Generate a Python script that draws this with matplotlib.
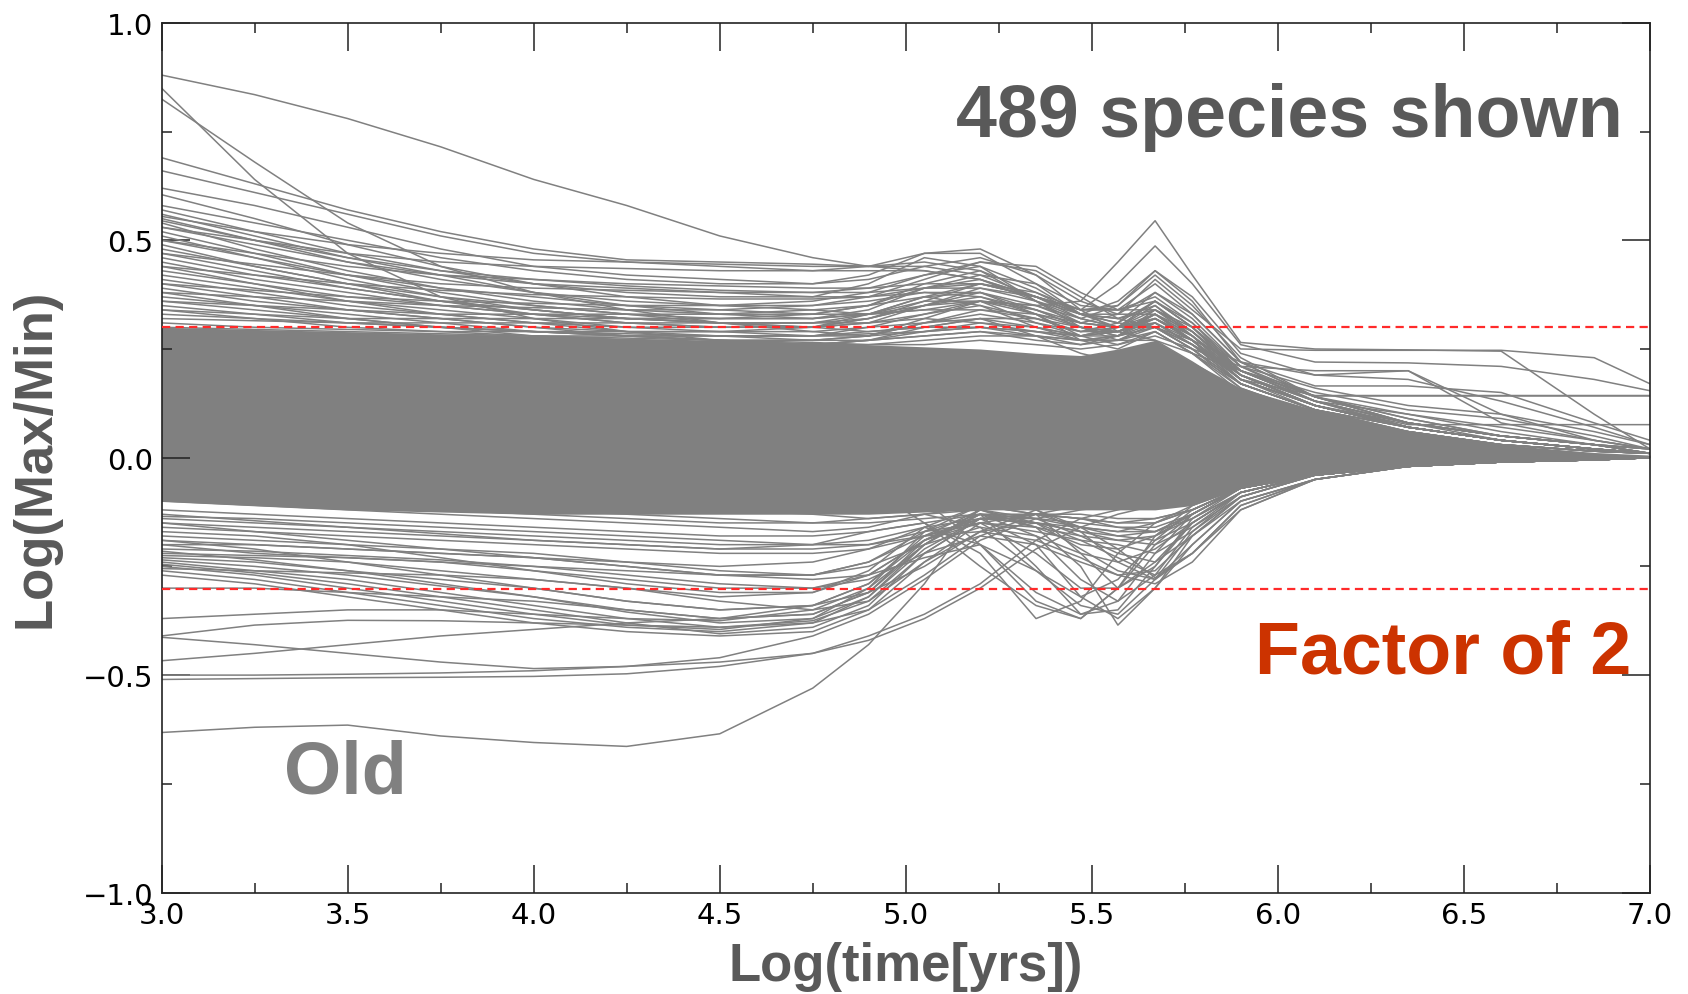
import matplotlib
matplotlib.use("Agg")
import matplotlib.pyplot as plt
from matplotlib.ticker import MultipleLocator

log_time = [3.0, 3.25, 3.5, 3.75, 4.0, 4.25, 4.5, 4.75, 4.9, 5.05, 5.2,
            5.35, 5.47, 5.57, 5.67, 5.77, 5.9, 6.1, 6.35, 6.6, 6.85, 7.0]

# envelope of the saturated (solid grey) part of the bundle
core_top = [0.30, 0.295, 0.29, 0.285, 0.28, 0.275, 0.27, 0.265, 0.26, 0.255, 0.25,
            0.24, 0.235, 0.25, 0.27, 0.22, 0.16, 0.11, 0.06, 0.03, 0.012, 0.006]
core_bottom = [-0.10, -0.11, -0.12, -0.125, -0.13, -0.13, -0.13, -0.13, -0.13, -0.125, -0.12,
               -0.12, -0.12, -0.12, -0.12, -0.11, -0.07, -0.04, -0.02, -0.01, -0.004, 0.0]

# individual species above the bundle
upper_tracks = [
    [0.88, 0.835, 0.78, 0.715, 0.64, 0.58, 0.51, 0.46, 0.44, 0.43, 0.41, 0.37, 0.33, 0.31, 0.30, 0.26, 0.19, 0.12, 0.07, 0.04, 0.02, 0.01],
    [0.85, 0.64, 0.47, 0.37, 0.32, 0.29, 0.27, 0.26, 0.27, 0.30, 0.32, 0.28, 0.24, 0.22, 0.24, 0.21, 0.14, 0.09, 0.05, 0.03, 0.015, 0.01],
    [0.825, 0.68, 0.54, 0.44, 0.38, 0.34, 0.31, 0.30, 0.31, 0.35, 0.38, 0.33, 0.27, 0.25, 0.29, 0.24, 0.15, 0.10, 0.06, 0.03, 0.015, 0.01],
    [0.69, 0.63, 0.57, 0.52, 0.48, 0.455, 0.45, 0.445, 0.44, 0.45, 0.43, 0.36, 0.31, 0.30, 0.33, 0.27, 0.17, 0.11, 0.06, 0.03, 0.015, 0.01],
    [0.66, 0.61, 0.56, 0.51, 0.47, 0.45, 0.44, 0.43, 0.44, 0.47, 0.48, 0.42, 0.34, 0.29, 0.27, 0.22, 0.15, 0.09, 0.05, 0.03, 0.015, 0.01],
    [0.62, 0.58, 0.53, 0.48, 0.44, 0.42, 0.41, 0.40, 0.42, 0.47, 0.47, 0.40, 0.33, 0.31, 0.36, 0.30, 0.19, 0.12, 0.07, 0.04, 0.02, 0.01],
    [0.605, 0.55, 0.49, 0.44, 0.40, 0.37, 0.35, 0.35, 0.37, 0.41, 0.45, 0.43, 0.37, 0.32, 0.30, 0.25, 0.16, 0.10, 0.06, 0.03, 0.015, 0.01],
    [0.57, 0.52, 0.47, 0.43, 0.40, 0.38, 0.37, 0.37, 0.40, 0.46, 0.44, 0.36, 0.32, 0.35, 0.43, 0.36, 0.22, 0.14, 0.08, 0.04, 0.02, 0.01],
    [0.56, 0.51, 0.46, 0.42, 0.38, 0.35, 0.33, 0.32, 0.33, 0.36, 0.40, 0.38, 0.34, 0.40, 0.487, 0.40, 0.26, 0.22, 0.218, 0.21, 0.18, 0.154],
    [0.55, 0.50, 0.45, 0.41, 0.38, 0.36, 0.35, 0.34, 0.33, 0.34, 0.36, 0.35, 0.36, 0.45, 0.545, 0.42, 0.265, 0.25, 0.248, 0.245, 0.10, 0.02],
    [0.54, 0.48, 0.43, 0.39, 0.36, 0.34, 0.33, 0.33, 0.35, 0.40, 0.43, 0.38, 0.33, 0.36, 0.43, 0.37, 0.24, 0.19, 0.20, 0.08, 0.04, 0.02],
    [0.53, 0.49, 0.45, 0.42, 0.40, 0.39, 0.38, 0.37, 0.37, 0.38, 0.37, 0.33, 0.31, 0.33, 0.41, 0.34, 0.25, 0.247, 0.247, 0.247, 0.23, 0.17],
    [0.52, 0.47, 0.42, 0.38, 0.35, 0.33, 0.32, 0.32, 0.34, 0.39, 0.42, 0.40, 0.35, 0.34, 0.40, 0.33, 0.22, 0.165, 0.165, 0.15, 0.08, 0.04],
    [0.50, 0.46, 0.42, 0.39, 0.37, 0.35, 0.34, 0.33, 0.33, 0.35, 0.36, 0.34, 0.31, 0.30, 0.36, 0.30, 0.20, 0.142, 0.142, 0.142, 0.142, 0.142],
    [0.49, 0.44, 0.40, 0.36, 0.33, 0.31, 0.30, 0.30, 0.31, 0.33, 0.35, 0.32, 0.29, 0.30, 0.35, 0.28, 0.18, 0.143, 0.143, 0.143, 0.143, 0.143],
    [0.47, 0.43, 0.39, 0.36, 0.34, 0.32, 0.31, 0.31, 0.33, 0.37, 0.40, 0.37, 0.33, 0.32, 0.35, 0.29, 0.19, 0.12, 0.076, 0.076, 0.076, 0.076],
    [0.45, 0.41, 0.38, 0.35, 0.33, 0.31, 0.30, 0.30, 0.32, 0.36, 0.36, 0.31, 0.28, 0.30, 0.36, 0.31, 0.21, 0.20, 0.20, 0.10, 0.04, 0.02],
    [0.43, 0.40, 0.37, 0.35, 0.33, 0.32, 0.32, 0.33, 0.35, 0.39, 0.41, 0.36, 0.30, 0.28, 0.32, 0.27, 0.18, 0.12, 0.08, 0.05, 0.03, 0.02],
    [0.41, 0.38, 0.35, 0.33, 0.31, 0.30, 0.30, 0.30, 0.32, 0.35, 0.37, 0.34, 0.30, 0.29, 0.33, 0.28, 0.19, 0.13, 0.10, 0.06, 0.03, 0.02],
    [0.39, 0.36, 0.34, 0.32, 0.30, 0.29, 0.29, 0.30, 0.33, 0.37, 0.35, 0.30, 0.27, 0.28, 0.34, 0.29, 0.20, 0.13, 0.08, 0.05, 0.03, 0.02],
    [0.37, 0.35, 0.33, 0.31, 0.29, 0.28, 0.28, 0.28, 0.30, 0.33, 0.36, 0.35, 0.32, 0.30, 0.31, 0.26, 0.17, 0.11, 0.07, 0.04, 0.02, 0.01],
    [0.35, 0.33, 0.31, 0.30, 0.29, 0.28, 0.27, 0.27, 0.28, 0.31, 0.33, 0.31, 0.29, 0.31, 0.38, 0.33, 0.22, 0.14, 0.08, 0.05, 0.03, 0.01],
    [0.33, 0.32, 0.31, 0.30, 0.29, 0.285, 0.28, 0.28, 0.29, 0.30, 0.30, 0.29, 0.28, 0.30, 0.34, 0.30, 0.21, 0.14, 0.09, 0.05, 0.03, 0.01],
    [0.58, 0.54, 0.50, 0.46, 0.43, 0.41, 0.40, 0.40, 0.41, 0.44, 0.46, 0.42, 0.36, 0.33, 0.33, 0.27, 0.18, 0.12, 0.07, 0.04, 0.02, 0.01],
    [0.51, 0.46, 0.41, 0.37, 0.34, 0.32, 0.31, 0.31, 0.32, 0.35, 0.39, 0.37, 0.32, 0.30, 0.32, 0.28, 0.20, 0.14, 0.09, 0.05, 0.03, 0.01],
    [0.555, 0.52, 0.49, 0.47, 0.455, 0.45, 0.445, 0.44, 0.44, 0.44, 0.42, 0.37, 0.34, 0.35, 0.42, 0.35, 0.23, 0.14, 0.08, 0.05, 0.03, 0.01],
    [0.53, 0.50, 0.47, 0.45, 0.44, 0.435, 0.43, 0.43, 0.43, 0.43, 0.41, 0.37, 0.34, 0.34, 0.36, 0.30, 0.20, 0.13, 0.08, 0.05, 0.03, 0.01],
    [0.48, 0.44, 0.40, 0.37, 0.35, 0.33, 0.31, 0.29, 0.28, 0.29, 0.30, 0.28, 0.26, 0.27, 0.31, 0.27, 0.18, 0.12, 0.07, 0.04, 0.02, 0.01],
    [0.46, 0.42, 0.39, 0.36, 0.34, 0.32, 0.31, 0.30, 0.29, 0.30, 0.32, 0.32, 0.30, 0.28, 0.30, 0.27, 0.19, 0.13, 0.08, 0.05, 0.03, 0.01],
    [0.44, 0.40, 0.36, 0.33, 0.31, 0.29, 0.28, 0.27, 0.27, 0.28, 0.29, 0.27, 0.26, 0.28, 0.33, 0.28, 0.19, 0.12, 0.07, 0.04, 0.02, 0.01],
    [0.42, 0.39, 0.36, 0.34, 0.32, 0.30, 0.29, 0.28, 0.28, 0.31, 0.34, 0.33, 0.30, 0.27, 0.27, 0.24, 0.17, 0.11, 0.07, 0.04, 0.02, 0.01],
    [0.40, 0.37, 0.34, 0.32, 0.30, 0.28, 0.27, 0.27, 0.28, 0.32, 0.36, 0.33, 0.28, 0.26, 0.28, 0.25, 0.17, 0.11, 0.07, 0.04, 0.02, 0.01],
    [0.38, 0.35, 0.32, 0.30, 0.29, 0.28, 0.27, 0.26, 0.26, 0.27, 0.28, 0.28, 0.27, 0.27, 0.30, 0.26, 0.18, 0.12, 0.07, 0.04, 0.02, 0.01],
    [0.36, 0.34, 0.32, 0.30, 0.28, 0.27, 0.26, 0.26, 0.27, 0.29, 0.31, 0.30, 0.28, 0.29, 0.32, 0.27, 0.18, 0.12, 0.07, 0.04, 0.02, 0.01],
    [0.34, 0.32, 0.30, 0.29, 0.28, 0.27, 0.265, 0.26, 0.27, 0.28, 0.29, 0.28, 0.27, 0.28, 0.31, 0.26, 0.17, 0.11, 0.07, 0.04, 0.02, 0.01],
    [0.30, 0.295, 0.29, 0.285, 0.28, 0.275, 0.27, 0.265, 0.26, 0.26, 0.27, 0.26, 0.25, 0.26, 0.29, 0.24, 0.20, 0.15, 0.11, 0.09, 0.05, 0.02],
    [0.31, 0.30, 0.295, 0.29, 0.29, 0.29, 0.29, 0.29, 0.30, 0.31, 0.32, 0.30, 0.28, 0.28, 0.30, 0.25, 0.21, 0.16, 0.12, 0.10, 0.06, 0.03],
    [0.32, 0.315, 0.31, 0.31, 0.31, 0.31, 0.31, 0.31, 0.31, 0.32, 0.31, 0.29, 0.27, 0.27, 0.29, 0.24, 0.16, 0.10, 0.06, 0.03, 0.015, 0.01],
    [0.34, 0.33, 0.32, 0.32, 0.32, 0.32, 0.32, 0.32, 0.33, 0.34, 0.34, 0.32, 0.29, 0.29, 0.32, 0.27, 0.22, 0.19, 0.18, 0.13, 0.07, 0.03],
    [0.36, 0.35, 0.34, 0.33, 0.33, 0.33, 0.33, 0.34, 0.35, 0.37, 0.38, 0.35, 0.31, 0.30, 0.32, 0.27, 0.18, 0.11, 0.06, 0.03, 0.015, 0.01],
    [0.38, 0.37, 0.36, 0.35, 0.345, 0.34, 0.34, 0.35, 0.36, 0.38, 0.38, 0.34, 0.30, 0.29, 0.31, 0.26, 0.20, 0.14, 0.10, 0.07, 0.04, 0.02],
    [0.40, 0.385, 0.37, 0.36, 0.355, 0.35, 0.35, 0.36, 0.38, 0.42, 0.44, 0.39, 0.33, 0.30, 0.30, 0.25, 0.17, 0.11, 0.06, 0.03, 0.015, 0.01],
    [0.44, 0.42, 0.40, 0.385, 0.375, 0.37, 0.365, 0.365, 0.37, 0.39, 0.40, 0.37, 0.33, 0.32, 0.34, 0.29, 0.19, 0.12, 0.07, 0.04, 0.02, 0.01],
    [0.47, 0.445, 0.42, 0.40, 0.39, 0.385, 0.38, 0.38, 0.38, 0.39, 0.39, 0.36, 0.33, 0.33, 0.38, 0.32, 0.21, 0.13, 0.07, 0.04, 0.02, 0.01],
    [0.50, 0.47, 0.44, 0.42, 0.41, 0.40, 0.395, 0.39, 0.39, 0.40, 0.40, 0.37, 0.34, 0.34, 0.37, 0.31, 0.20, 0.13, 0.07, 0.04, 0.02, 0.01],
    [0.545, 0.50, 0.46, 0.43, 0.41, 0.395, 0.385, 0.38, 0.39, 0.42, 0.45, 0.44, 0.38, 0.34, 0.34, 0.28, 0.18, 0.12, 0.07, 0.04, 0.02, 0.01],
    [0.29, 0.285, 0.28, 0.28, 0.28, 0.28, 0.28, 0.28, 0.285, 0.29, 0.30, 0.29, 0.28, 0.29, 0.33, 0.29, 0.20, 0.13, 0.08, 0.05, 0.03, 0.02],
]

# individual species below the bundle
lower_tracks = [
    [-0.632, -0.62, -0.615, -0.64, -0.655, -0.664, -0.635, -0.53, -0.43, -0.29, -0.11, -0.05, -0.03, -0.02, 0.0, -0.01, -0.02, -0.02, -0.01, -0.005, 0.0, 0.0],
    [-0.51, -0.508, -0.506, -0.505, -0.503, -0.497, -0.48, -0.45, -0.42, -0.37, -0.30, -0.21, -0.16, -0.13, -0.11, -0.09, -0.05, -0.03, -0.015, -0.01, -0.005, 0.0],
    [-0.50, -0.50, -0.498, -0.495, -0.49, -0.48, -0.46, -0.41, -0.36, -0.28, -0.19, -0.14, -0.12, -0.11, -0.10, -0.09, -0.05, -0.03, -0.015, -0.01, -0.005, 0.0],
    [-0.413, -0.43, -0.45, -0.47, -0.485, -0.48, -0.47, -0.45, -0.41, -0.36, -0.29, -0.19, -0.14, -0.12, -0.10, -0.08, -0.05, -0.03, -0.015, -0.01, -0.005, 0.0],
    [-0.467, -0.45, -0.43, -0.41, -0.395, -0.38, -0.37, -0.34, -0.31, -0.25, -0.17, -0.12, -0.10, -0.09, -0.09, -0.08, -0.05, -0.03, -0.015, -0.01, -0.005, 0.0],
    [-0.41, -0.385, -0.374, -0.375, -0.38, -0.385, -0.39, -0.38, -0.35, -0.27, -0.18, -0.13, -0.11, -0.10, -0.09, -0.08, -0.05, -0.03, -0.015, -0.01, -0.005, 0.0],
    [-0.37, -0.36, -0.35, -0.35, -0.36, -0.37, -0.375, -0.35, -0.30, -0.20, -0.13, -0.18, -0.28, -0.33, -0.27, -0.16, -0.08, -0.04, -0.02, -0.01, -0.005, 0.0],
    [-0.30, -0.30, -0.31, -0.32, -0.33, -0.35, -0.37, -0.36, -0.31, -0.20, -0.12, -0.10, -0.10, -0.10, -0.09, -0.08, -0.05, -0.03, -0.015, -0.01, -0.005, 0.0],
    [-0.26, -0.28, -0.31, -0.34, -0.37, -0.39, -0.40, -0.38, -0.32, -0.20, -0.12, -0.10, -0.10, -0.10, -0.09, -0.08, -0.05, -0.03, -0.015, -0.01, -0.005, 0.0],
    [-0.25, -0.27, -0.30, -0.33, -0.36, -0.385, -0.395, -0.37, -0.30, -0.17, -0.11, -0.13, -0.22, -0.30, -0.25, -0.15, -0.08, -0.04, -0.02, -0.01, -0.005, 0.0],
    [-0.24, -0.26, -0.28, -0.31, -0.34, -0.37, -0.39, -0.375, -0.33, -0.22, -0.14, -0.20, -0.32, -0.37, -0.30, -0.18, -0.09, -0.04, -0.02, -0.01, -0.005, 0.0],
    [-0.235, -0.25, -0.27, -0.295, -0.32, -0.35, -0.37, -0.36, -0.31, -0.19, -0.13, -0.25, -0.36, -0.33, -0.22, -0.13, -0.07, -0.04, -0.02, -0.01, -0.005, 0.0],
    [-0.23, -0.24, -0.26, -0.28, -0.30, -0.33, -0.35, -0.34, -0.29, -0.18, -0.12, -0.16, -0.25, -0.385, -0.30, -0.20, -0.10, -0.05, -0.02, -0.01, -0.005, 0.0],
    [-0.225, -0.23, -0.24, -0.26, -0.28, -0.30, -0.32, -0.31, -0.26, -0.16, -0.11, -0.12, -0.17, -0.24, -0.28, -0.20, -0.10, -0.05, -0.02, -0.01, -0.005, 0.0],
    [-0.22, -0.225, -0.23, -0.24, -0.26, -0.28, -0.30, -0.30, -0.27, -0.19, -0.15, -0.22, -0.30, -0.30, -0.24, -0.15, -0.08, -0.04, -0.02, -0.01, -0.005, 0.0],
    [-0.21, -0.215, -0.225, -0.235, -0.25, -0.27, -0.29, -0.30, -0.28, -0.22, -0.18, -0.20, -0.24, -0.27, -0.26, -0.18, -0.09, -0.04, -0.02, -0.01, -0.005, 0.0],
    [-0.20, -0.20, -0.21, -0.22, -0.23, -0.25, -0.27, -0.27, -0.24, -0.17, -0.13, -0.15, -0.21, -0.26, -0.28, -0.22, -0.11, -0.05, -0.02, -0.01, -0.005, 0.0],
    [-0.18, -0.19, -0.20, -0.21, -0.22, -0.24, -0.26, -0.27, -0.25, -0.20, -0.16, -0.18, -0.22, -0.24, -0.21, -0.15, -0.08, -0.04, -0.02, -0.01, -0.005, 0.0],
    [-0.16, -0.17, -0.18, -0.19, -0.20, -0.21, -0.22, -0.22, -0.21, -0.18, -0.15, -0.17, -0.19, -0.20, -0.22, -0.17, -0.09, -0.04, -0.02, -0.01, -0.005, 0.0],
    [-0.14, -0.15, -0.16, -0.17, -0.18, -0.19, -0.20, -0.20, -0.19, -0.16, -0.14, -0.15, -0.17, -0.19, -0.20, -0.16, -0.09, -0.04, -0.02, -0.01, -0.005, 0.0],
    [-0.12, -0.13, -0.14, -0.15, -0.16, -0.17, -0.18, -0.18, -0.17, -0.15, -0.13, -0.14, -0.16, -0.17, -0.17, -0.14, -0.08, -0.04, -0.02, -0.01, -0.005, 0.0],
    [-0.10, -0.11, -0.12, -0.13, -0.14, -0.15, -0.16, -0.17, -0.16, -0.13, -0.12, -0.14, -0.18, -0.22, -0.24, -0.18, -0.10, -0.05, -0.02, -0.01, -0.005, 0.0],
    [-0.08, -0.09, -0.10, -0.11, -0.12, -0.13, -0.14, -0.15, -0.15, -0.14, -0.13, -0.16, -0.20, -0.21, -0.18, -0.13, -0.07, -0.04, -0.02, -0.01, -0.005, 0.0],
    [-0.06, -0.07, -0.08, -0.09, -0.10, -0.11, -0.12, -0.13, -0.14, -0.13, -0.11, -0.13, -0.16, -0.17, -0.15, -0.12, -0.07, -0.04, -0.02, -0.01, -0.005, 0.0],
    [-0.04, -0.05, -0.06, -0.07, -0.08, -0.09, -0.10, -0.11, -0.12, -0.12, -0.12, -0.15, -0.19, -0.23, -0.27, -0.22, -0.12, -0.05, -0.02, -0.01, -0.005, 0.0],
    [-0.15, -0.16, -0.17, -0.18, -0.19, -0.20, -0.21, -0.20, -0.17, -0.15, -0.22, -0.37, -0.33, -0.22, -0.15, -0.11, -0.07, -0.04, -0.02, -0.01, -0.005, 0.0],
    [-0.19, -0.20, -0.21, -0.22, -0.23, -0.24, -0.25, -0.24, -0.21, -0.16, -0.20, -0.33, -0.37, -0.30, -0.20, -0.13, -0.07, -0.04, -0.02, -0.01, -0.005, 0.0],
    [-0.09, -0.10, -0.11, -0.12, -0.13, -0.14, -0.15, -0.15, -0.14, -0.13, -0.16, -0.26, -0.32, -0.28, -0.19, -0.12, -0.07, -0.04, -0.02, -0.01, -0.005, 0.0],
    [-0.05, -0.06, -0.07, -0.08, -0.09, -0.10, -0.11, -0.12, -0.12, -0.11, -0.10, -0.12, -0.16, -0.21, -0.276, -0.22, -0.11, -0.05, -0.02, -0.01, -0.005, 0.0],
    [0.10, 0.09, 0.08, 0.07, 0.06, 0.05, 0.04, 0.02, -0.02, -0.10, -0.20, -0.31, -0.36, -0.35, -0.25, -0.14, -0.07, -0.04, -0.02, -0.01, -0.005, 0.0],
    [0.05, 0.04, 0.03, 0.02, 0.01, 0.0, -0.01, -0.03, -0.07, -0.15, -0.25, -0.34, -0.37, -0.30, -0.18, -0.11, -0.06, -0.03, -0.015, -0.01, -0.005, 0.0],
    [-0.13, -0.145, -0.16, -0.175, -0.19, -0.20, -0.21, -0.21, -0.20, -0.17, -0.15, -0.16, -0.18, -0.19, -0.18, -0.14, -0.08, -0.04, -0.02, -0.01, -0.005, 0.0],
    [-0.15, -0.17, -0.19, -0.21, -0.23, -0.25, -0.27, -0.27, -0.24, -0.18, -0.14, -0.15, -0.17, -0.18, -0.17, -0.13, -0.07, -0.04, -0.02, -0.01, -0.005, 0.0],
    [-0.17, -0.18, -0.20, -0.23, -0.26, -0.29, -0.31, -0.31, -0.27, -0.19, -0.14, -0.14, -0.15, -0.16, -0.16, -0.13, -0.07, -0.04, -0.02, -0.01, -0.005, 0.0],
    [-0.19, -0.21, -0.24, -0.27, -0.30, -0.33, -0.35, -0.34, -0.29, -0.19, -0.13, -0.13, -0.14, -0.15, -0.15, -0.12, -0.07, -0.04, -0.02, -0.01, -0.005, 0.0],
    [-0.215, -0.235, -0.26, -0.29, -0.32, -0.355, -0.38, -0.37, -0.32, -0.21, -0.14, -0.13, -0.14, -0.16, -0.17, -0.13, -0.07, -0.04, -0.02, -0.01, -0.005, 0.0],
    [-0.245, -0.265, -0.29, -0.32, -0.35, -0.38, -0.405, -0.39, -0.34, -0.22, -0.14, -0.13, -0.14, -0.15, -0.14, -0.12, -0.07, -0.04, -0.02, -0.01, -0.005, 0.0],
    [-0.255, -0.26, -0.265, -0.27, -0.28, -0.30, -0.33, -0.35, -0.33, -0.24, -0.17, -0.15, -0.16, -0.18, -0.19, -0.15, -0.08, -0.04, -0.02, -0.01, -0.005, 0.0],
    [-0.135, -0.14, -0.15, -0.16, -0.17, -0.18, -0.19, -0.20, -0.20, -0.18, -0.17, -0.19, -0.23, -0.27, -0.29, -0.24, -0.12, -0.05, -0.02, -0.01, -0.005, 0.0],
    [-0.27, -0.29, -0.32, -0.35, -0.38, -0.40, -0.41, -0.40, -0.35, -0.24, -0.15, -0.13, -0.13, -0.14, -0.14, -0.12, -0.07, -0.04, -0.02, -0.01, -0.005, 0.0],
    [-0.20, -0.22, -0.23, -0.24, -0.25, -0.26, -0.27, -0.28, -0.27, -0.23, -0.20, -0.26, -0.34, -0.36, -0.28, -0.17, -0.08, -0.04, -0.02, -0.01, -0.005, 0.0],
]

factor_of_two = 0.301  # log10(2)

grey = "#808080"
label_grey = "#595959"

fig = plt.figure(figsize=(16.88, 9.95), dpi=100)
ax = fig.add_axes([0.0957, 0.102, 0.8818, 0.874])

ax.fill_between(log_time, core_bottom, core_top, color=grey, lw=0)
for track in upper_tracks + lower_tracks:
    ax.plot(log_time, track, color=grey, lw=1.1, solid_joinstyle="round")

for level in (factor_of_two, -factor_of_two):
    ax.axhline(level, color="#ff2a2a", lw=1.6, ls="--", dashes=(3.7, 2.4), zorder=5)

ax.set_xlim(3.0, 7.0)
ax.set_ylim(-1.0, 1.0)
ax.xaxis.set_major_locator(MultipleLocator(0.5))
ax.xaxis.set_minor_locator(MultipleLocator(0.25))
ax.yaxis.set_major_locator(MultipleLocator(0.5))
ax.yaxis.set_minor_locator(MultipleLocator(0.25))
ax.tick_params(which="both", direction="in", top=True, right=True, width=1.1, color="#222222")
ax.tick_params(which="major", length=20, labelsize=21, pad=6)
ax.tick_params(which="minor", length=7)
for spine in ax.spines.values():
    spine.set_linewidth(1.2)
    spine.set_color("#222222")

bold = dict(family="Liberation Sans", fontweight="bold")
ax.set_xlabel("Log(time[yrs])", fontsize=38, color=label_grey, labelpad=9, **bold)
ax.set_ylabel("Log(Max/Min)", fontsize=38, color=label_grey, labelpad=16, **bold)

ax.text(6.928, 0.740, "489 species shown", fontsize=53, color=label_grey,
        ha="right", va="baseline", **bold)
ax.text(6.951, -0.494, "Factor of 2", fontsize=53, color="#cc3300",
        ha="right", va="baseline", **bold)
ax.text(3.329, -0.77, "Old", fontsize=53, color=grey,
        ha="left", va="baseline", **bold)

fig.savefig("out.png", dpi=100)
